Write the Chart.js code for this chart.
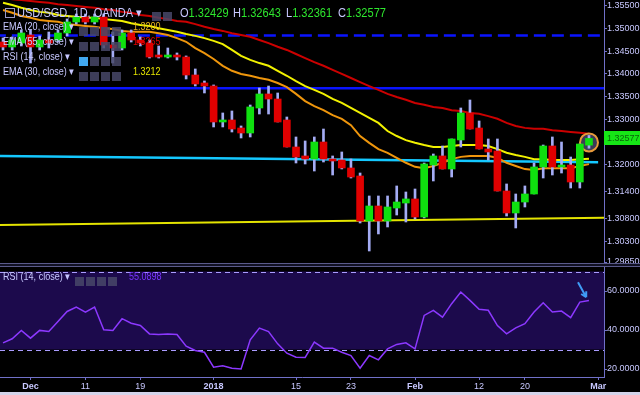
<!DOCTYPE html>
<html>
<head>
<meta charset="utf-8">
<script src="https://cdn.jsdelivr.net/npm/chart.js@4.4.1/dist/chart.umd.min.js"></script>
<style>
  body { margin:0; background:#000; font-family:"Liberation Sans", Arial, sans-serif; }
  #wrap { position:relative; width:640px; height:395px; overflow:hidden; background:#000; }
  canvas { position:absolute; left:0; }
  #cPrice { top:0; }
  #cRsi { top:267px; }
  .sep { position:absolute; left:0; top:263px; width:640px; height:2px; border-top:1px solid #5a5a8a; border-bottom:1px solid #5a5a8a; background:#101022; }
  .foot { position:absolute; left:0; top:392px; width:640px; height:3px; background:#d4d4ea; }
  .txt { position:absolute; white-space:nowrap; color:#c8c8ff; transform-origin:0 50%; }
  .ttl { font-size:13px; top:5px; transform:scaleX(0.85); }
  .row { font-size:10.5px; transform:scaleX(0.86); }
  .ic { display:inline-block; width:9px; height:9px; background:rgba(72,72,104,0.85); margin-right:2px; vertical-align:middle; }
  .ic.on { background:#41a8f0; }
  .g { color:#2ee62e; }
</style>
</head>
<body>
<div id="wrap">
  <canvas id="cPrice" width="640" height="263"></canvas>
  <div class="sep"></div>
  <canvas id="cRsi" width="640" height="125"></canvas>
  <div class="foot"></div>

  <div class="txt" style="left:5px;top:8px;width:8px;height:8px;border:1px solid #9a9ac8;"></div>
  <div class="txt ttl" style="left:17px;">USD/SGD, 1D, OANDA ▾</div>
  <div class="txt" style="left:152px;top:7px;"><span class="ic"></span><span class="ic"></span></div>
  <div class="txt ttl" style="left:180px;">O<span class="g">1.32429</span></div>
  <div class="txt ttl" style="left:233px;">H<span class="g">1.32643</span></div>
  <div class="txt ttl" style="left:286px;">L<span class="g">1.32361</span></div>
  <div class="txt ttl" style="left:338px;">C<span class="g">1.32577</span></div>

  <div class="txt row" style="left:3px;top:20px;">EMA (20, close) ▾</div>
  <div class="txt" style="left:79px;top:22px;"><span class="ic"></span><span class="ic"></span><span class="ic"></span><span class="ic"></span></div>
  <div class="txt row" style="left:133px;top:20px;color:#e8b422;">1.3200</div>

  <div class="txt row" style="left:3px;top:35px;">EMA (55, close) ▾</div>
  <div class="txt" style="left:79px;top:37px;"><span class="ic"></span><span class="ic"></span><span class="ic"></span><span class="ic"></span></div>
  <div class="txt row" style="left:133px;top:35px;color:#e00000;">1.3265</div>

  <div class="txt row" style="left:3px;top:50px;">RSI (14, close) ▾</div>
  <div class="txt" style="left:79px;top:52px;"><span class="ic on"></span><span class="ic"></span><span class="ic"></span><span class="ic"></span></div>

  <div class="txt row" style="left:3px;top:65px;">EMA (30, close) ▾</div>
  <div class="txt" style="left:79px;top:67px;"><span class="ic"></span><span class="ic"></span><span class="ic"></span><span class="ic"></span></div>
  <div class="txt row" style="left:133px;top:65px;color:#e6e600;">1.3212</div>

  <div class="txt row" style="left:3px;top:270px;">RSI (14, close) ▾</div>
  <div class="txt" style="left:75px;top:272px;"><span class="ic"></span><span class="ic"></span><span class="ic"></span><span class="ic"></span></div>
  <div class="txt row" style="left:129px;top:270px;color:#7b35ff;">55.0898</div>
</div>

<script>
// daily candles, 28 Nov 2017 .. 28 Feb 2018 (trading days only)
const opens = [1.34705,1.34595,1.34683,1.34860,1.34595,1.34750,1.34750,1.34904,1.35147,1.35257,
  1.35147,1.35257,1.34639,1.34573,1.34904,1.34750,1.34683,1.34397,1.34374,1.34397,
  1.34374,1.33977,1.33801,1.33734,1.32940,1.32984,1.32807,1.32697,1.33249,1.33558,
  1.33447,1.32984,1.32388,1.32190,1.32123,1.32498,1.32123,1.32101,1.31925,1.31748,
  1.30755,1.31086,1.30755,1.31042,1.31152,1.31241,1.30843,1.31991,1.32190,1.31903,
  1.32543,1.33139,1.32807,1.32344,1.32300,1.31417,1.30932,1.31174,1.31351,1.31947,
  1.32410,1.31947,1.31991,1.31616,1.32429];
const highs = [1.34794,1.34816,1.34970,1.34970,1.34838,1.34926,1.34970,1.35213,1.35323,1.35323,
  1.35323,1.35323,1.34926,1.34970,1.34970,1.34816,1.34750,1.34617,1.34573,1.34463,
  1.34397,1.34110,1.33845,1.33757,1.33139,1.33183,1.32852,1.33315,1.33690,1.33734,
  1.33580,1.33050,1.32609,1.32521,1.32609,1.32785,1.32190,1.32278,1.32123,1.31814,
  1.31307,1.31307,1.31307,1.31528,1.31395,1.31461,1.32035,1.32234,1.32410,1.32565,
  1.33249,1.33425,1.32962,1.32565,1.32565,1.31572,1.31351,1.31528,1.32035,1.32432,
  1.32609,1.32498,1.32167,1.32454,1.32643];
const lows = [1.34529,1.34529,1.34617,1.34242,1.34529,1.34573,1.34705,1.34838,1.35103,1.35103,
  1.35103,1.34573,1.34242,1.34529,1.34705,1.34617,1.34352,1.34352,1.34352,1.34308,
  1.33889,1.33734,1.33580,1.32830,1.32830,1.32719,1.32587,1.32609,1.33116,1.33116,
  1.32940,1.32388,1.32035,1.32013,1.31858,1.32057,1.31770,1.31903,1.31704,1.30711,
  1.30093,1.30469,1.30623,1.30887,1.30733,1.30799,1.30821,1.31638,1.31903,1.31726,
  1.32388,1.32785,1.32344,1.32101,1.31417,1.30865,1.30601,1.31064,1.31351,1.31704,
  1.31770,1.31814,1.31483,1.31483,1.32361];
const closes = [1.34595,1.34750,1.34904,1.34595,1.34750,1.34683,1.34904,1.35147,1.35257,1.35147,
  1.35257,1.34639,1.34573,1.34904,1.34750,1.34683,1.34374,1.34374,1.34397,1.34374,
  1.33977,1.33779,1.33734,1.32940,1.32962,1.32785,1.32697,1.33271,1.33558,1.33447,
  1.32940,1.32388,1.32167,1.32123,1.32498,1.32123,1.32079,1.31925,1.31726,1.30755,
  1.31086,1.30755,1.31064,1.31174,1.31241,1.30843,1.32013,1.32190,1.31903,1.32565,
  1.33139,1.32785,1.32344,1.32278,1.31417,1.30932,1.31174,1.31351,1.31947,1.32410,
  1.31947,1.31991,1.31616,1.32454,1.32577];

// moving averages
const ema55 = [1.3568,1.3565,1.3563,1.3561,1.3559,1.3557,1.3554,1.3552,1.3550,1.3548,
  1.3546,1.3543,1.3541,1.3537,1.3535,1.3530,1.3528,1.3524,1.3521,1.3517,
  1.3515,1.3510,1.3504,1.3499,1.3495,1.3490,1.3486,1.3482,1.3475,1.3468,
  1.3460,1.3453,1.3444,1.3435,1.3426,1.3418,1.3409,1.3400,1.3391,1.3382,
  1.3373,1.3365,1.3356,1.3349,1.3343,1.3336,1.3332,1.3327,1.3325,1.3320,
  1.3318,1.3314,1.3312,1.3307,1.3301,1.3292,1.3285,1.3281,1.3279,1.3279,
  1.3276,1.3274,1.3272,1.3270,1.3268];
const ema30 = [1.3557,1.3552,1.3546,1.3541,1.3537,1.3535,1.3530,1.3528,1.3526,1.3524,
  1.3524,1.3521,1.3519,1.3517,1.3512,1.3508,1.3506,1.3501,1.3497,1.3493,
  1.3488,1.3484,1.3479,1.3473,1.3466,1.3453,1.3440,1.3431,1.3424,1.3418,
  1.3407,1.3396,1.3384,1.3373,1.3365,1.3356,1.3345,1.3336,1.3325,1.3314,
  1.3303,1.3292,1.3274,1.3263,1.3254,1.3248,1.3243,1.3239,1.3239,1.3241,
  1.3243,1.3243,1.3243,1.3241,1.3234,1.3226,1.3221,1.3217,1.3212,1.3212,
  1.3210,1.3210,1.3210,1.3212,1.3213];
const ema20 = [1.3541,1.3535,1.3528,1.3524,1.3519,1.3517,1.3515,1.3510,1.3508,1.3506,
  1.3504,1.3501,1.3499,1.3495,1.3493,1.3493,1.3493,1.3490,1.3486,1.3479,
  1.3471,1.3457,1.3446,1.3433,1.3418,1.3407,1.3400,1.3396,1.3391,1.3387,
  1.3380,1.3371,1.3356,1.3340,1.3329,1.3320,1.3309,1.3301,1.3287,1.3263,
  1.3248,1.3234,1.3226,1.3215,1.3204,1.3195,1.3192,1.3197,1.3204,1.3212,
  1.3217,1.3219,1.3219,1.3219,1.3215,1.3204,1.3197,1.3190,1.3188,1.3192,
  1.3192,1.3192,1.3192,1.3197,1.3201];

const rsi14 = [33.4,35.5,39.8,35.8,39.8,39.2,44.4,49.5,51.8,49.2,
  51.8,40.1,39.8,45.8,43.5,42.3,38.0,37.7,38.0,37.7,
  31.7,29.5,28.6,20.9,21.7,20.4,20.0,35.0,41.0,39.2,
  32.9,28.1,26.0,25.9,33.8,30.7,30.7,28.6,26.9,20.4,
  26.9,24.7,30.3,32.6,33.4,30.3,47.5,50.1,46.6,53.5,
  59.5,55.2,50.6,50.1,42.3,38.0,41.1,43.2,49.2,54.0,
  49.2,49.7,46.3,54.3,55.09];

// drawn levels and trend lines: [bar index, price]
const blueDashLevel = 1.34849;
const blueSolidLevel = 1.33683;
const cyanTrend = [[-0.4, 1.32189], [65.0, 1.32050]];
const yellowTrend = [[-0.4, 1.30666], [65.7, 1.30827]];
const markerCircle = [64, 1.3249];
const rsiArrow = [[62.8, 64.5], [63.7, 56.8]];

// axis ticks
const priceTicks = [1.355, 1.35, 1.345, 1.34, 1.335, 1.33, 1.32, 1.314, 1.308, 1.303, 1.2985];
const rsiTicks = [20, 40, 60];
const dateTickIdx = [3, 9, 15, 23, 32, 38, 45, 52, 57, 65];
const dateTickText = ['Dec', '11', '19', '2018', '15', '23', 'Feb', '12', '20', 'Mar'];
const boldTicks = ['Dec', '2018', 'Feb', 'Mar'];

const UP = '#0fe00f', DOWN = '#e00000', WICK = '#a4acf4', AXIS = '#7070c8', LABEL = '#c8c8ff';

// narrow font if the machine has one, else a smaller regular one
function hasFont(f){
  const c = document.createElement('canvas').getContext('2d');
  c.font = '20px "' + f + '", monospace';
  const a = c.measureText('1.35500 abcMW').width;
  c.font = '20px "' + f + '", serif';
  const b = c.measureText('1.35500 abcMW').width;
  return a === b;
}
const NARROW = hasFont('Liberation Sans Narrow');
const AXFONT = NARROW ? {family:'Liberation Sans Narrow', size:10.5} : {family:'Liberation Sans', size:9};

function pts(arr){ return arr.map((v,i)=>({x:i, y:v})); }
function flat(lvl){ return [{x:-1, y:lvl}, {x:67, y:lvl}]; }
function xy(pairs){ return pairs.map(p=>({x:p[0], y:p[1]})); }

const xRange = {type:'linear', min:-0.33, max:65.64, offset:false};

// ===========================
// PRICE PANE
// ===========================

const lastPriceTag = {
  id:'lastPriceTag',
  afterDraw(chart){
    const c = closes[closes.length-1];
    const y = chart.scales.y.getPixelForValue(c);
    const ctx = chart.ctx, a = chart.chartArea;
    ctx.save();
    ctx.fillStyle = '#16e616';
    ctx.fillRect(a.right, Math.round(y)-7, chart.width-a.right, 14);
    ctx.fillStyle = '#0c640c';
    ctx.font = AXFONT.size + 'px "' + AXFONT.family + '"';
    ctx.textBaseline = 'middle';
    ctx.fillText(c.toFixed(5), a.right+3, y+0.5);
    ctx.restore();
  }
};

new Chart(document.getElementById('cPrice'), {
  type:'bar',
  data:{
    datasets:[
      {
        type:'bar', order:0, grouped:false, barThickness:7, minBarLength:2,
        data: closes.map((c,i)=>({x:i, y:[opens[i], c]})),
        backgroundColor: closes.map((c,i)=> c >= opens[i] ? UP : DOWN)
      },
      {
        type:'bar', order:1, grouped:false, barThickness:2,
        data: closes.map((c,i)=>({x:i, y:[lows[i], highs[i]]})),
        backgroundColor: WICK
      },
      {
        type:'line', order:2, data: xy([markerCircle]), showLine:false,
        pointRadius:9, pointBackgroundColor:'rgba(62,62,92,0.95)', pointBorderColor:'#e89a3a', pointBorderWidth:2
      },
      { type:'line', order:3, data: pts(ema55), borderColor:'#cc0000', borderWidth:2, pointRadius:0 },
      { type:'line', order:3, data: pts(ema30), borderColor:'#f2f200', borderWidth:2, pointRadius:0 },
      { type:'line', order:3, data: pts(ema20), borderColor:'#ef960c', borderWidth:2, pointRadius:0 },
      { type:'line', order:4, data: flat(blueDashLevel), borderColor:'#0a14ff', borderWidth:2.5, borderDash:[12,6], pointRadius:0 },
      { type:'line', order:4, data: flat(blueSolidLevel), borderColor:'#0a14ff', borderWidth:2.5, pointRadius:0 },
      { type:'line', order:4, data: xy(cyanTrend), borderColor:'#14c8ff', borderWidth:2.5, pointRadius:0 },
      { type:'line', order:4, data: xy(yellowTrend), borderColor:'#e4e400', borderWidth:2, pointRadius:0 }
    ]
  },
  options:{
    responsive:false, animation:false, devicePixelRatio:1,
    layout:{padding:0, autoPadding:false},
    plugins:{legend:{display:false}, tooltip:{enabled:false}},
    scales:{
      x:{...xRange, display:false},
      y:{
        position:'right', min:1.29828, max:1.35632,
        afterBuildTicks: s => { s.ticks = priceTicks.map(v=>({value:v})); },
        afterFit: s => { s.width = 36; s.paddingTop = 0; s.paddingBottom = 0; },
        ticks:{color:LABEL, font:AXFONT, padding:0, autoSkip:false, callback: v => v.toFixed(5)},
        grid:{drawOnChartArea:false, tickLength:3, color:AXIS},
        border:{color:AXIS}
      }
    }
  },
  plugins:[lastPriceTag]
});

// ===========================
// RSI PANE
// ===========================

const rsiBand = {
  id:'rsiBand',
  beforeDatasetsDraw(chart){
    const ctx = chart.ctx, a = chart.chartArea, y = chart.scales.y;
    const top = y.getPixelForValue(70), bot = y.getPixelForValue(30);
    ctx.save();
    ctx.fillStyle = '#1c0a4c';
    ctx.fillRect(a.left, top, a.right-a.left, bot-top);
    ctx.strokeStyle = '#aa9cff';
    ctx.lineWidth = 1;
    ctx.setLineDash([5,4]);
    [top, bot].forEach(p => {
      ctx.beginPath();
      ctx.moveTo(a.left, Math.round(p)+0.5);
      ctx.lineTo(a.right, Math.round(p)+0.5);
      ctx.stroke();
    });
    ctx.restore();
  },
  afterDatasetsDraw(chart){
    const ctx = chart.ctx, sx = chart.scales.x, sy = chart.scales.y;
    const x0 = sx.getPixelForValue(rsiArrow[0][0]), y0 = sy.getPixelForValue(rsiArrow[0][1]);
    const x1 = sx.getPixelForValue(rsiArrow[1][0]), y1 = sy.getPixelForValue(rsiArrow[1][1]);
    const ang = Math.atan2(y1-y0, x1-x0);
    ctx.save();
    ctx.strokeStyle = '#3f9cf5';
    ctx.lineWidth = 2;
    ctx.beginPath();
    ctx.moveTo(x0, y0); ctx.lineTo(x1, y1);
    ctx.moveTo(x1, y1); ctx.lineTo(x1 - 6*Math.cos(ang-0.5), y1 - 6*Math.sin(ang-0.5));
    ctx.moveTo(x1, y1); ctx.lineTo(x1 - 6*Math.cos(ang+0.5), y1 - 6*Math.sin(ang+0.5));
    ctx.stroke();
    ctx.restore();
  }
};

new Chart(document.getElementById('cRsi'), {
  type:'line',
  data:{
    datasets:[{ data: pts(rsi14), borderColor:'#8c38ff', borderWidth:1.5, pointRadius:0 }]
  },
  options:{
    responsive:false, animation:false, devicePixelRatio:1,
    layout:{padding:0, autoPadding:false},
    plugins:{legend:{display:false}, tooltip:{enabled:false}},
    scales:{
      x:{
        ...xRange,
        afterBuildTicks: s => { s.ticks = dateTickIdx.map(v=>({value:v})); },
        afterFit: s => { s.height = 15; s.paddingLeft = 0; s.paddingRight = 0; },
        ticks:{
          color:LABEL, padding:1, autoSkip:false, maxRotation:0,
          font: ctx => ({size:AXFONT.size, family:AXFONT.family,
            weight: boldTicks.includes(dateTickText[dateTickIdx.indexOf(ctx.tick && ctx.tick.value)]) ? 'bold' : 'normal'}),
          callback: v => dateTickText[dateTickIdx.indexOf(v)]
        },
        grid:{drawOnChartArea:false, tickLength:3, color:AXIS},
        border:{color:AXIS}
      },
      y:{
        position:'right', min:15.9, max:72.31,
        afterBuildTicks: s => { s.ticks = rsiTicks.map(v=>({value:v})); },
        afterFit: s => { s.width = 36; s.paddingTop = 0; s.paddingBottom = 0; },
        ticks:{color:LABEL, font:AXFONT, padding:0, autoSkip:false, callback: v => v.toFixed(4)},
        grid:{drawOnChartArea:false, tickLength:3, color:AXIS},
        border:{color:AXIS}
      }
    }
  },
  plugins:[rsiBand]
});
</script>
</body>
</html>
